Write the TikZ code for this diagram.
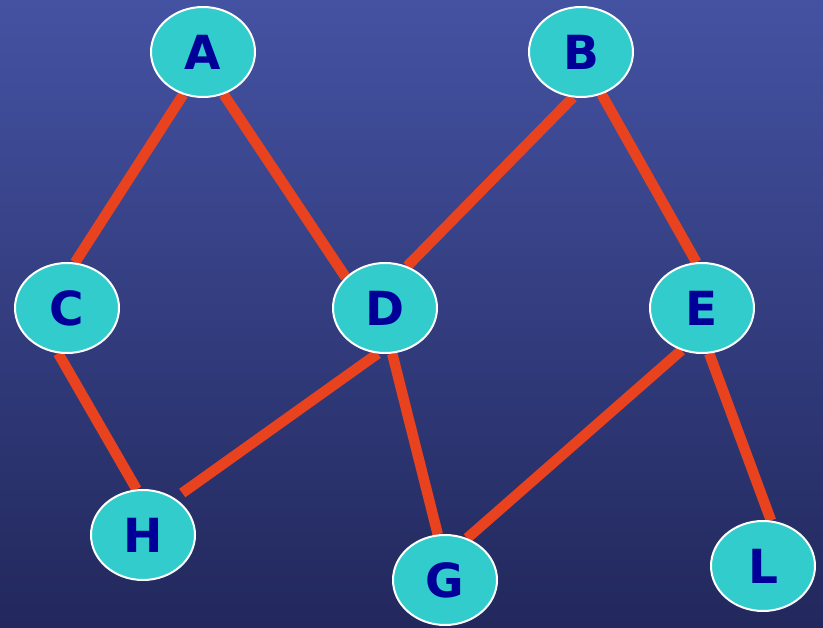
\documentclass[tikz,border=0pt]{standalone}
\usepackage{fontspec}
\setmainfont{DejaVu Sans}
\usetikzlibrary{shapes.geometric}
\definecolor{bgtop}{RGB}{68,82,162}
\definecolor{bgbot}{RGB}{34,40,92}
\definecolor{vertexfill}{RGB}{51,204,204}
\definecolor{vertextext}{RGB}{0,0,153}
\definecolor{edgered}{RGB}{232,66,30}
\pgfdeclarelayer{bg}
\pgfdeclarelayer{edges}
\pgfsetlayers{bg,edges,main}

\begin{document}
\begin{tikzpicture}[x=1pt,y=-1pt,
  vertex/.style={ellipse,draw=white,line width=2pt,fill=vertexfill,
    minimum width=104pt,minimum height=90pt,inner sep=0pt,
    text=vertextext,font=\fontsize{47}{47}\selectfont\bfseries},
  edge/.style={draw=edgered,line width=10.5pt}]

% background
\begin{pgfonlayer}{bg}
\shade[top color=bgtop,bottom color=bgbot] (0,0) rectangle (823,628);
\end{pgfonlayer}
\useasboundingbox (0,0) rectangle (823,628);

% vertices
\node[vertex] (A) at (203,52) {A};
\node[vertex] (B) at (581,52) {B};
\node[vertex] (C) at (67,308) {C};
\node[vertex] (D) at (385,308) {D};
\node[vertex] (E) at (702,308) {E};
\node[vertex] (H) at (143,535) {H};
\node[vertex] (G) at (445,580) {G};
\node[vertex] (L) at (763,566) {L};

% edges
\begin{pgfonlayer}{edges}
\draw[edge] (A.245) -- (C.80);
\draw[edge] (A.296) -- (D.142);
\draw[edge] (B.260) -- (D.62);
\draw[edge] (B.296) -- (E.97);
\draw[edge] (C.259) -- (H.98);
\draw[edge,shorten >=9pt] (D.261) -- (H.49);
\draw[edge] (D.279) -- (G.99);
\draw[edge] (E.244) -- (G.62);
\draw[edge] (E.279) -- (L.80);
\end{pgfonlayer}

\end{tikzpicture}
\end{document}
